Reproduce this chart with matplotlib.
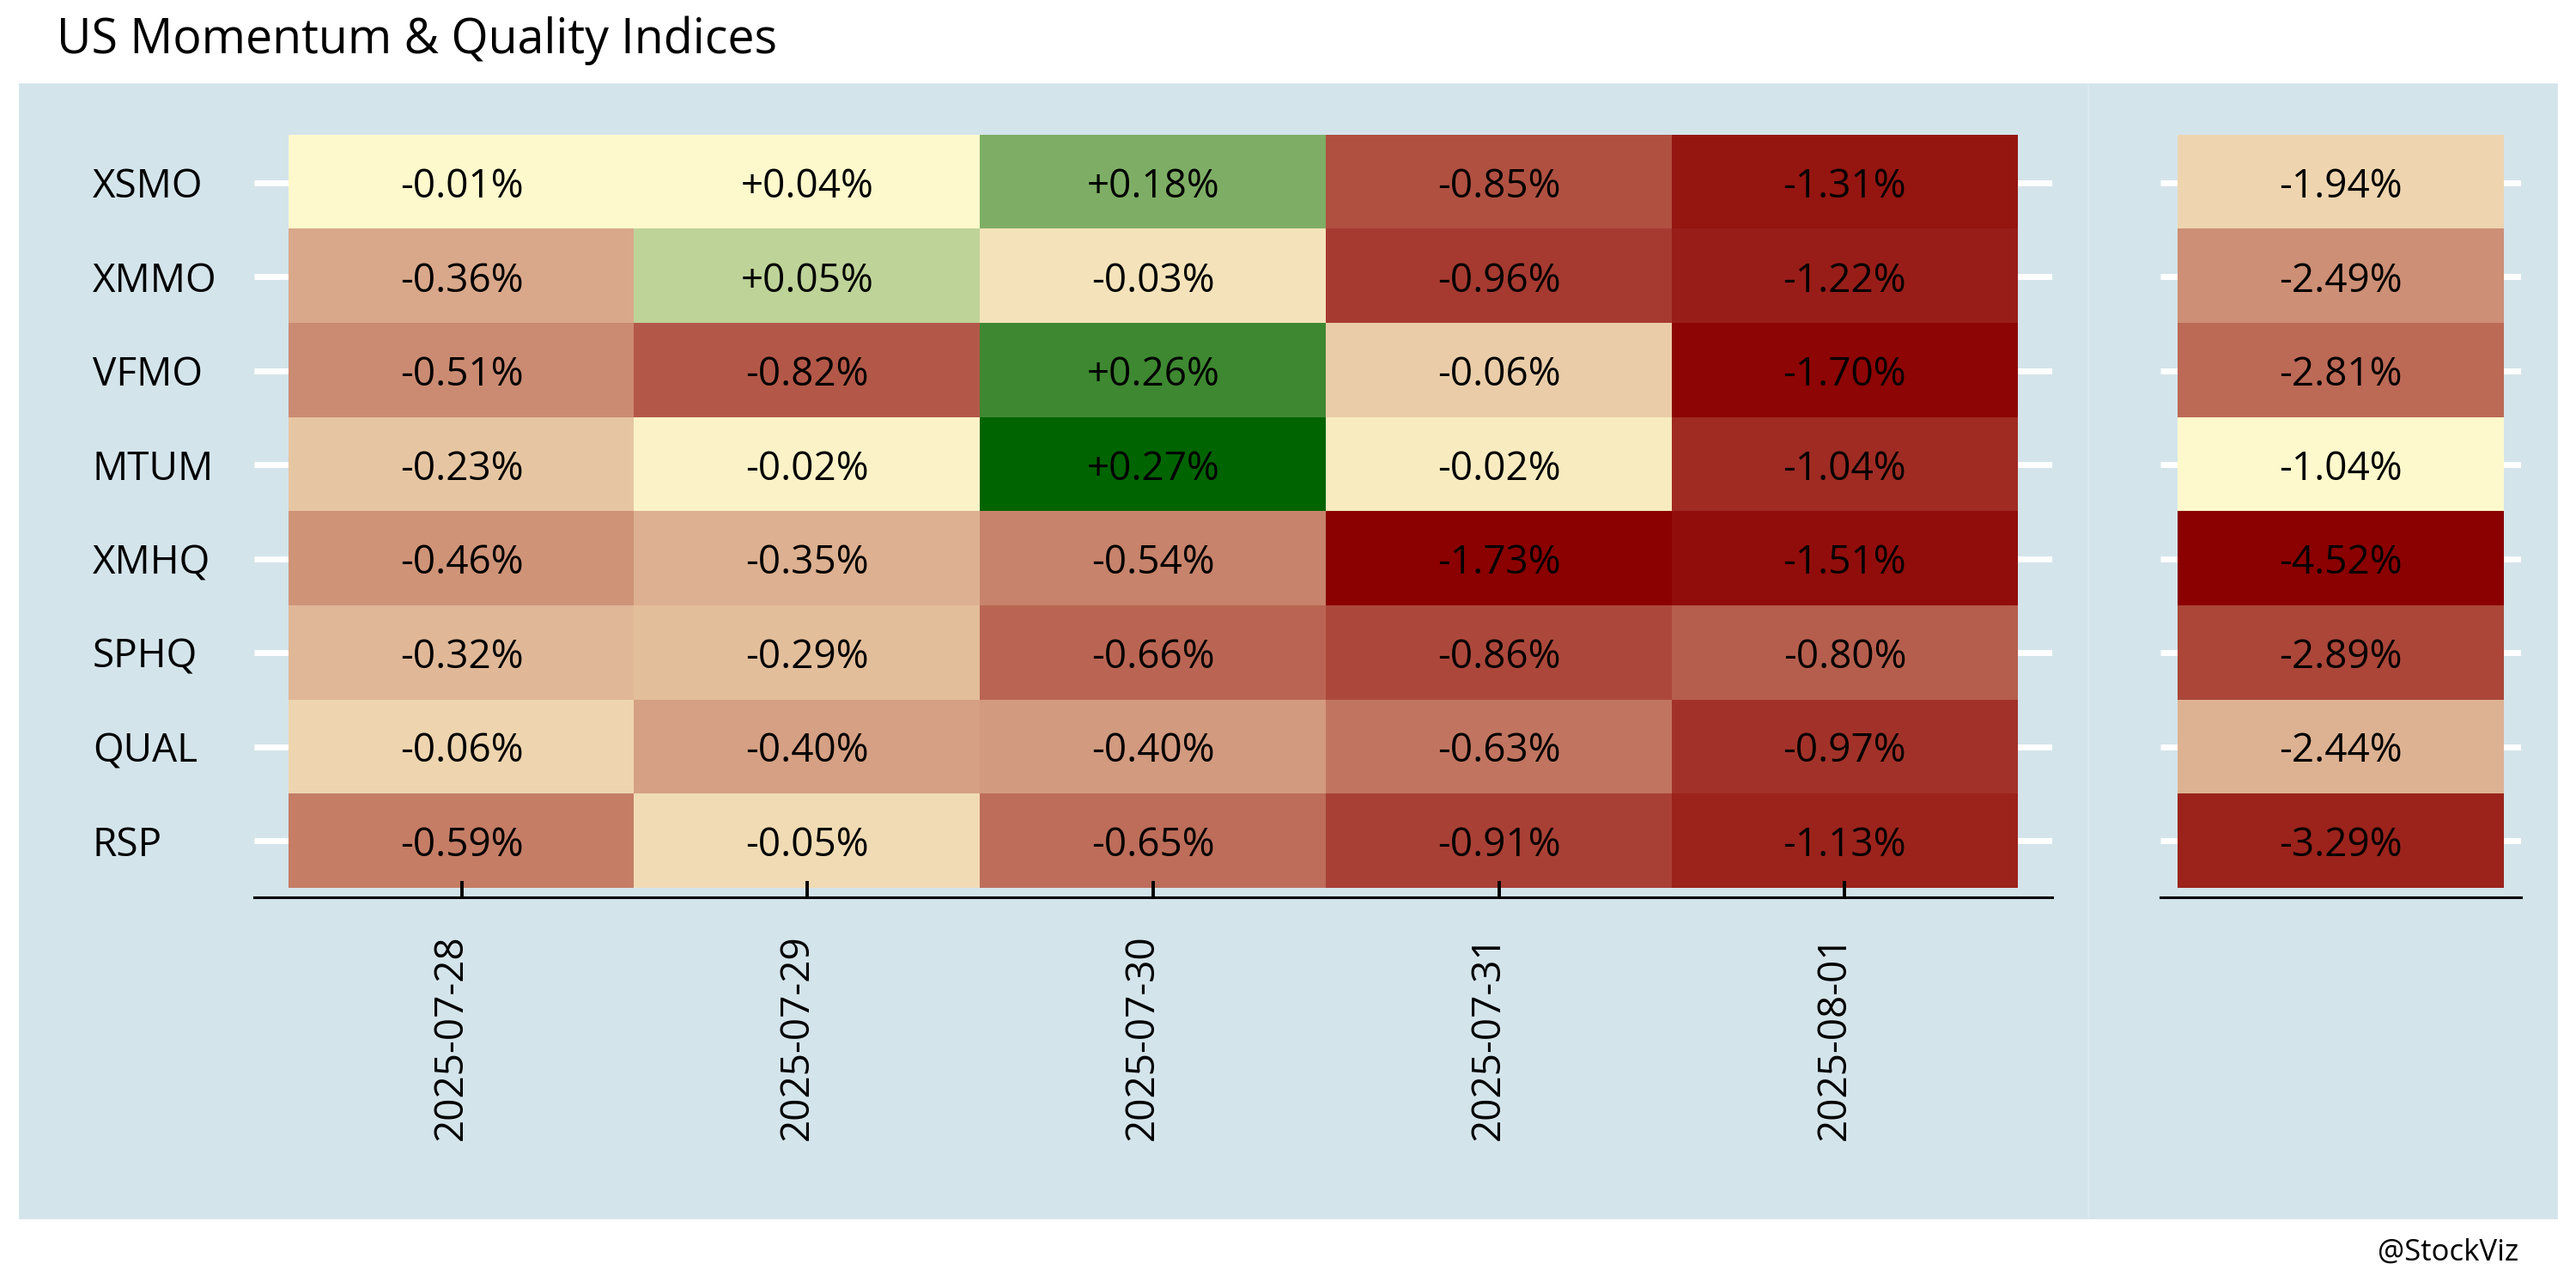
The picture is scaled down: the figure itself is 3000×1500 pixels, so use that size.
import numpy as np
import pandas as pd
import matplotlib
matplotlib.use("Agg")
import matplotlib.pyplot as plt
from matplotlib.colors import LinearSegmentedColormap, Normalize
from matplotlib.patches import Rectangle

plt.rcParams['font.family'] = ['Open Sans', 'DejaVu Sans']

# daily returns (%) per index, one list per date
symbols = ['XSMO', 'XMMO', 'VFMO', 'MTUM', 'XMHQ', 'SPHQ', 'QUAL', 'RSP']
dates = ['2025-07-28', '2025-07-29', '2025-07-30', '2025-07-31', '2025-08-01']
d0728 = [-0.01, -0.36, -0.51, -0.23, -0.46, -0.32, -0.056, -0.59]
d0729 = [0.04, 0.05, -0.82, -0.018, -0.35, -0.29, -0.398, -0.05]
d0730 = [0.18, -0.03, 0.26, 0.27, -0.54, -0.66, -0.403, -0.65]
d0731 = [-0.85, -0.96, -0.064, -0.024, -1.73, -0.86, -0.63, -0.91]
d0801 = [-1.31, -1.22, -1.70, -1.04, -1.51, -0.80, -0.97, -1.13]
# cumulative over the week
cumul = [-1.94, -2.49, -2.81, -1.04, -4.52, -2.89, -2.44, -3.29]

bg = '#d4e4eb'
cmap = LinearSegmentedColormap.from_list('rg', ['darkred', 'lemonchiffon', 'darkgreen'])
norm = Normalize(-1, 1)


def rank_scale(v):
    # colour by rank: negatives fade lemonchiffon -> darkred, positives -> darkgreen
    v = np.asarray(v, dtype=float)
    t = np.zeros_like(v)
    neg = v < 0
    pos = v > 0
    if neg.sum() > 0:
        r = pd.Series(v[neg]).rank(ascending=False).values
        t[neg] = -(r - 1) / max(neg.sum() - 1, 1)
    if pos.sum() > 0:
        r = pd.Series(v[pos]).rank(ascending=True).values
        t[pos] = (r - 1) / max(pos.sum() - 1, 1)
    return t.reshape(v.shape)


def style(ax, xlim):
    ax.set_facecolor('none')
    ax.set_xlim(*xlim)
    ax.set_ylim(len(symbols) - 0.4, -0.6)
    for s in ['top', 'right', 'left']:
        ax.spines[s].set_visible(False)
    ax.spines['bottom'].set_color('black')
    ax.spines['bottom'].set_linewidth(1.1)
    ax.hlines(range(len(symbols)), xlim[0], xlim[1], color='white', lw=2.5, zorder=0.5)


fig = plt.figure(figsize=(15, 7.5), dpi=200)
W, H = 3000, 1500
fig.patches.append(Rectangle((23 / W, 1 - 1418 / H), (2432 - 23) / W, (1418 - 98) / H,
                             transform=fig.transFigure, color=bg, zorder=-2))
fig.patches.append(Rectangle((2432 / W, 1 - 1418 / H), (2977 - 2432) / W, (1418 - 98) / H,
                             transform=fig.transFigure, color=bg, zorder=-2))
fig.lines.append(plt.Line2D([2432 / W, 2432 / W], [1 - 1418 / H, 1 - 98 / H],
                            transform=fig.transFigure, color='#dde9ef', lw=0.6, zorder=-1))

# main heatmap
vals = np.array([d0728, d0729, d0730, d0731, d0801]).T
ax = fig.add_axes([296 / W, 1 - 1045 / H, 2094 / W, 898 / H])
style(ax, (-0.6, len(dates) - 0.4))
ax.imshow(rank_scale(vals), cmap=cmap, norm=norm, aspect='auto', zorder=1,
          extent=(-0.5, len(dates) - 0.5, len(symbols) - 0.5, -0.5), interpolation='nearest')
for i in range(len(symbols)):
    for j in range(len(dates)):
        ax.text(j, i, f"{vals[i, j]:+.2f}%", ha='center', va='center_baseline', fontsize=16.5,
                color='black', zorder=2)
ax.set_xticks(range(len(dates)))
ax.set_xticklabels(dates, rotation=90, rotation_mode='anchor', ha='right', va='baseline',
                   fontsize=16.5)
ax.tick_params(axis='x', direction='in', length=7, width=1.4, color='black', pad=15.5)
ax.set_yticks(range(len(symbols)))
ax.set_yticklabels(symbols, ha='left', fontsize=16.5)
ax.tick_params(axis='y', length=0, pad=67.7)

# cumulative column
cv = np.array(cumul).reshape(-1, 1)
ax2 = fig.add_axes([2516 / W, 1 - 1045 / H, 420 / W, 898 / H])
half = 0.5 * 420 / 380
style(ax2, (-half, half))
ax2.imshow(rank_scale(cv), cmap=cmap, norm=norm, aspect='auto', zorder=1,
           extent=(-0.5, 0.5, len(symbols) - 0.5, -0.5), interpolation='nearest')
for i in range(len(symbols)):
    ax2.text(0, i, f"{cumul[i]:+.2f}%", ha='center', va='center_baseline', fontsize=16.5,
             color='black', zorder=2)
ax2.set_xticks([])
ax2.set_yticks([])

fig.text(66 / W, 1 - 62 / H, 'US Momentum & Quality Indices', fontsize=20, va='baseline', ha='left')
fig.text(2933 / W, 1 - 1468 / H, '@StockViz', fontsize=12.5, va='baseline', ha='right')

fig.savefig('out.png', dpi=200, facecolor='white')
